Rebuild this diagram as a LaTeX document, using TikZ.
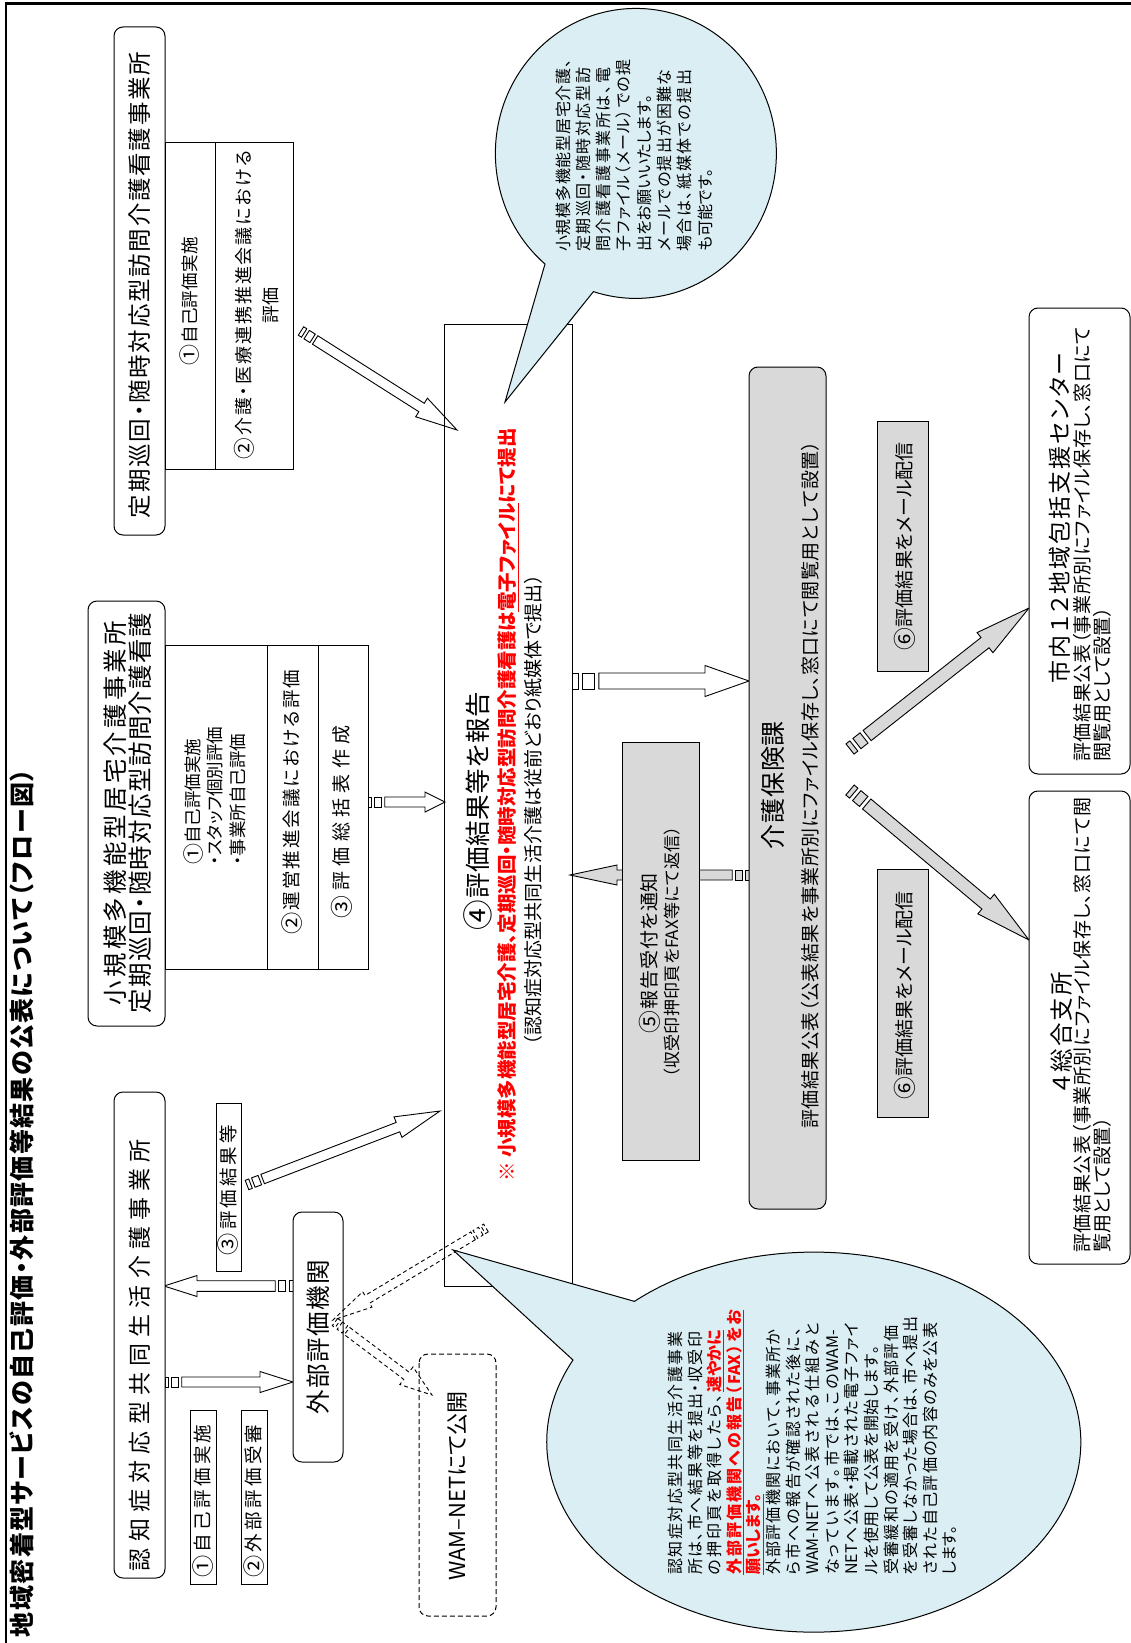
\documentclass[tikz,border=0pt]{standalone}
\usepackage{fontspec}
\usepackage{graphicx}
\setmainfont{Noto Sans CJK JP}[RawFeature={+palt}]
\usetikzlibrary{calc}
\definecolor{bubblefill}{HTML}{DAEEF3}
\definecolor{boxgray}{HTML}{D9D9D9}
\newcommand\fs[2]{\fontsize{#1}{#2}\selectfont}
\newcommand\cn[1]{\raisebox{-0.1em}{\scalebox{1.2}{#1}}}
\def\SPstopmacro{\SPstop}
\let\SPstop\relax
\def\SPloop#1{\def\SPtmp{#1}\ifx\SPtmp\SPstopmacro\else\SPsep\let\SPsep\hfill#1\expandafter\SPloop\fi}
\newcommand\spreadtext[2]{\leavevmode\hbox to #1{\let\SPsep\relax\SPloop#2\SPstop}}
\newcommand\redul[1]{{\bfseries\color{red}\underline{#1}}}
\newcommand\blockarrow[6][]{%
  \pgfpointdiff{\pgfpointanchor{#2}{center}}{\pgfpointanchor{#3}{center}}%
  \pgfgetlastxy{\BAdx}{\BAdy}%
  \pgfmathsetmacro\BAlen{veclen(\BAdx,\BAdy)}%
  \pgfmathsetmacro\BAang{atan2(\BAdy,\BAdx)}%
  \pgfmathsetmacro\BAh{#4}\pgfmathsetmacro\BAhh{#5}\pgfmathsetmacro\BAhl{#6}%
  \pgfmathsetmacro\BAa{0.75*\BAh}%
  \pgfmathsetmacro\BAb{\BAa+0.6*\BAh}%
  \pgfmathsetmacro\BAc{\BAb+1.4*\BAh}%
  \pgfmathsetmacro\BAd{\BAc+0.6*\BAh}%
  \pgfmathsetmacro\BAe{\BAlen-\BAhl}%
  \begin{scope}[shift={(#2)}, rotate=\BAang]
    \path[#1] (0,-\BAh) rectangle (\BAa,\BAh);
    \path[#1] (\BAb,-\BAh) rectangle (\BAc,\BAh);
    \path[#1] (\BAd,-\BAh) -- (\BAe,-\BAh) -- (\BAe,-\BAhh) -- (\BAlen,0) -- (\BAe,\BAhh) -- (\BAe,\BAh) -- (\BAd,\BAh) -- cycle;
  \end{scope}}
\begin{document}
\begin{tikzpicture}[x=1pt,y=-1pt,
  box/.style={draw, line width=1pt, rotate=90, inner sep=0pt, fill=white},
  rbox/.style={box, rounded corners=9pt},
  gbox/.style={box, fill=boxgray},
  rgbox/.style={rbox, fill=boxgray},
  openbox/.style={draw, line width=1pt, rotate=90, inner sep=0pt},
  dbox/.style={draw, line width=1pt, rotate=90, inner sep=0pt, rounded corners=9pt, dash pattern=on 5pt off 3pt},
  txt/.style={rotate=90, inner sep=0pt, align=center},
  txtl/.style={rotate=90, inner sep=0pt, align=left, anchor=west},
  whitearrow/.style={draw, line width=0.9pt, fill=white},
  grayarrow/.style={draw, line width=0.9pt, fill=boxgray},
  dasharrow/.style={draw, line width=0.9pt, dash pattern=on 4pt off 3pt},
  bubble/.style={draw, line width=1pt, fill=bubblefill}]
\useasboundingbox (0,0) rectangle (1131,1643);
\fill[white] (0,0) rectangle (1131,1643);
% frame
\draw[line width=2.5pt] (6,1643) -- (6,3.6) -- (1131,3.6);

% arrow coordinates
\coordinate (aAs) at (301,331); \coordinate (aAe) at (457,430);
\coordinate (aBs) at (368,802); \coordinate (aBe) at (445,802);
\coordinate (a4Cs) at (572,681); \coordinate (a4Ce) at (749,681);
\coordinate (aC4s) at (749,875); \coordinate (aC4e) at (570,875);
\coordinate (aCEs) at (850,749); \coordinate (aCEe) at (1029,608);
\coordinate (aCFs) at (850,790); \coordinate (aCFe) at (1029,940);
\coordinate (aGHs) at (165,1382); \coordinate (aGHe) at (293,1382);
\coordinate (aHGs) at (293,1286); \coordinate (aHGe) at (164,1286);
\coordinate (aG4s) at (247,1185); \coordinate (aG4e) at (440,1111);
\coordinate (aXs) at (486,1228); \coordinate (aXe) at (333,1320);
\coordinate (aYs) at (335,1322); \coordinate (aYe) at (432,1395);

% solid block arrows
\blockarrow[whitearrow]{aAs}{aAe}{5}{11}{42}
\blockarrow[whitearrow]{aBs}{aBe}{5}{10}{20}
\blockarrow[whitearrow]{a4Cs}{a4Ce}{8}{15.5}{44}
\blockarrow[grayarrow]{aC4s}{aC4e}{5}{10}{47}
\blockarrow[grayarrow]{aCEs}{aCEe}{6.5}{12.8}{56}
\blockarrow[grayarrow]{aCFs}{aCFe}{6.5}{12.8}{56}
\blockarrow[whitearrow]{aGHs}{aGHe}{5}{10.5}{33}
\blockarrow[whitearrow]{aHGs}{aHGe}{5.3}{10.5}{33}
\blockarrow[whitearrow]{aG4s}{aG4e}{5}{11}{45}

% boxes
\node[rbox, minimum width=508pt, minimum height=51pt] (A) at (139.5,281) {};
\node[box, minimum width=326pt, minimum height=50pt] (A1) at (190,306) {};
\node[box, minimum width=326pt, minimum height=78pt] (A2) at (254,306) {};
\node[rbox, minimum width=425pt, minimum height=77pt] (B) at (126.5,813.5) {};
\node[box, minimum width=324pt, minimum height=102pt] (B1) at (216,807) {};
\node[box, minimum width=324pt, minimum height=51pt] (B2) at (292.5,807) {};
\node[box, minimum width=324pt, minimum height=50pt] (B3) at (343,807) {};
\node[openbox, minimum width=962pt, minimum height=128pt] (P4) at (508,805) {};
\node[rgbox, minimum width=842pt, minimum height=77pt] (C) at (787.5,788) {};
\node[gbox, minimum width=418pt, minimum height=77pt] (D) at (660.5,951) {};
\node[gbox, minimum width=250pt, minimum height=51pt] (S6a) at (902.5,546) {};
\node[gbox, minimum width=248pt, minimum height=51pt] (S6b) at (902.5,993) {};
\node[rbox, minimum width=466pt, minimum height=101pt] (E) at (1079.5,541) {};
\node[rbox, minimum width=473pt, minimum height=101pt] (F) at (1079.5,1027.5) {};
\node[rbox, minimum width=486pt, minimum height=51pt] (G) at (139.5,1335) {};
\node[box, minimum width=174pt, minimum height=26pt] (G1) at (203,1497) {};
\node[box, minimum width=174pt, minimum height=26pt] (G2) at (254,1497) {};
\node[box, minimum width=168pt, minimum height=25pt] (G3) at (228.5,1187) {};
\node[rbox, minimum width=250pt, minimum height=50pt] (H) at (318,1337) {};
\node[dbox, minimum width=262pt, minimum height=77pt] (W) at (457.5,1485) {};

% dashed arrows
\blockarrow[dasharrow]{aXs}{aXe}{4.5}{9}{40}
\blockarrow[dasharrow]{aYs}{aYe}{4.5}{11}{32}

% texts
\node[txt, font=\fs{25}{30}\bfseries] (title) at (22,1203) {\spreadtext{868pt}{地域密着型サービスの自己評価・外部評価等結果の公表について（フロー図）}};
\node[txt, font=\fs{23.5}{26}] (At) at (140,285) {\spreadtext{466pt}{定期巡回・随時対応型訪問介護看護事業所}};
\node[txt, font=\fs{17.5}{20}] (A1t) at (190,301) {\spreadtext{128pt}{{\cn{①}}自己評価実施}};
\node[txt, font=\fs{18}{27}] (A2t) at (256.5,305) {\spreadtext{308pt}{{\cn{②}}介護・医療連携推進会議における}\\評価};
\node[txt, font=\fs{24.5}{25}] (Bt) at (127.5,813) {\spreadtext{384pt}{小規模多機能型居宅介護事業所}\\\spreadtext{400pt}{定期巡回・随時対応型訪問介護看護}};
\node[txtl, font=\fs{17.5}{22.5}] (B1t) at (214.5,865) {\cn{①}自己評価実施\\・スタッフ個別評価\\・事業所自己評価};
\node[txt, font=\fs{18.5}{22}] (B2t) at (292,802) {\spreadtext{265pt}{{\cn{②}}運営推進会議における評価}};
\node[txt, font=\fs{19}{20}] (B3t) at (342,822) {\spreadtext{193pt}{{\cn{③}}評価総括表作成}};
\node[txt, font=\fs{25.5}{30}] (P4t1) at (478,811) {\spreadtext{238pt}{{\cn{④}}評価結果等を報告}};
\node[txt, font=\fs{19.5}{23}\bfseries, text=red] (P4t2) at (508,805) {※ 小規模多機能型居宅介護、定期巡回・随時対応型訪問介護看護は\underline{電子ファイル}にて提出};
\node[txt, font=\fs{19}{22}] (P4t3) at (533,810) {\spreadtext{471pt}{（認知症対応型共同生活介護は従前どおり紙媒体で提出）}};
\node[txt, font=\fs{25}{28}] (Ct1) at (773,785) {\spreadtext{128pt}{介護保険課}};
\node[txt, font=\fs{19}{22}] (Ct2) at (810,785) {\spreadtext{687pt}{評価結果公表（公表結果を事業所別にファイル保存し、窓口にて閲覧用として設置）}};
\node[txt, font=\fs{19}{23}] (Dt1) at (650,953) {\spreadtext{160pt}{{\cn{⑤}}報告受付を通知}};
\node[txt, font=\fs{17}{20}] (Dt2) at (672,952) {\spreadtext{251pt}{（収受印押印頁を{FAX}等にて返信）}};
\node[txt, font=\fs{19}{22}] (S6at) at (905,546) {\spreadtext{208pt}{{\cn{⑥}}評価結果をメール配信}};
\node[txt, font=\fs{19}{22}] (S6bt) at (905,995) {\spreadtext{208pt}{{\cn{⑥}}評価結果をメール配信}};
\node[txt, font=\fs{23}{27}] (Et1) at (1060,518) {\spreadtext{330pt}{市内１２地域包括支援センター}};
\node[txtl, font=\fs{19}{20.5}] (Et2) at (1092.5,762) {\spreadtext{435pt}{評価結果公表（事業所別にファイル保存し、窓口にて}\\閲覧用として設置）};
\node[txt, font=\fs{23.5}{27}] (Ft1) at (1062,1032) {\spreadtext{120pt}{４総合支所}};
\node[txtl, font=\fs{19}{20.5}] (Ft2) at (1092.5,1253) {\spreadtext{455pt}{評価結果公表（事業所別にファイル保存し、窓口にて閲}\\覧用として設置）};
\node[txt, font=\fs{23}{26}] (Gt) at (140,1355) {\spreadtext{432pt}{認知症対応型共同生活介護事業所}};
\node[txt, font=\fs{18.5}{20}] (G1t) at (203,1501) {\spreadtext{153pt}{{\cn{①}}自己評価実施}};
\node[txt, font=\fs{18.5}{20}] (G2t) at (254,1501) {\spreadtext{153pt}{{\cn{②}}外部評価受審}};
\node[txt, font=\fs{18.5}{20}] (G3t) at (228.5,1190) {\spreadtext{130pt}{{\cn{③}}評価結果等}};
\node[txt, font=\fs{24.5}{27}] (Ht) at (318,1337) {\spreadtext{154pt}{外部評価機関}};
\node[txt, font=\fs{22}{25}] (Wt) at (458,1486) {WAM–NETにて公開};

% bubbles
\path[bubble] (505,402) -- (545,264) arc[start angle=130.3, end angle=467.6, x radius=140.5, y radius=145] -- cycle;
\node[txtl, font=\fs{16}{20.3}] (b1t) at (634,252) {%
\spreadtext{192pt}{小規模多機能型居宅介護、}\\
\spreadtext{184pt}{定期巡回・随時対応型訪}\\
\spreadtext{184pt}{問介護看護事業所は、電}\\
\spreadtext{192pt}{子ファイル（メール）での提}\\
出をお願いいたします。\\
\spreadtext{182pt}{メールでの提出が困難な}\\
\spreadtext{182pt}{場合は、紙媒体での提出}\\
も可能です。};

\path[bubble] (453,1250) -- (573,1360) arc[start angle=205.6, end angle=-132.2, x radius=267, y radius=190] -- cycle;
\node[txtl, font=\fs{16}{19.6}] (b2t) at (812.5,1575) {%
\spreadtext{243pt}{認知症対応型共同生活介護事業}\\
\spreadtext{243pt}{所は、市へ結果等を提出・収受印}\\
\spreadtext{245pt}{の押印頁を取得したら、{\redul{速やかに}}}\\
\redul{\spreadtext{265pt}{外部評価機関への報告（{FAX}）をお}}\\
\redul{願いします。}\\
\spreadtext{245pt}{外部評価機関において、事業所か}\\
\spreadtext{247pt}{ら市への報告が確認された後に、}\\
\spreadtext{252pt}{{WAM-NET}へ公表される仕組みと}\\
\spreadtext{245pt}{なっています。市では、この{WAM-}}\\
\spreadtext{252pt}{{NET}へ公表・掲載された電子ファイ}\\
\spreadtext{229pt}{ルを使用して公表を開始します。}\\
\spreadtext{249pt}{受審緩和の適用を受け、外部評価}\\
\spreadtext{258pt}{を受審しなかった場合は、市へ提出}\\
\spreadtext{252pt}{された自己評価の内容のみを公表}\\
します。};
\end{tikzpicture}
\end{document}
